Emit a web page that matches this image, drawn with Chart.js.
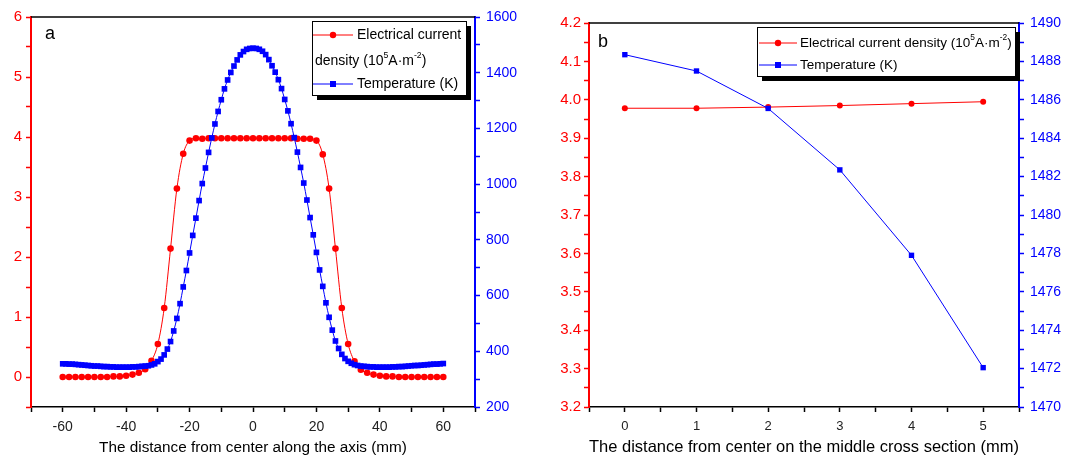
<!DOCTYPE html>
<html>
<head>
<meta charset="utf-8">
<script src="https://cdn.jsdelivr.net/npm/chart.js@4.4.1/dist/chart.umd.min.js"></script>
<style>
  html, body { margin: 0; padding: 0; background: #fff; }
  #wrap { position: relative; width: 1092px; height: 457px; }
  canvas { position: absolute; top: 0; }
  #chartA { left: 0; }
  #chartB { left: 540px; }
</style>
</head>
<body>
<div id="wrap">
  <canvas id="chartA" width="540" height="457"></canvas>
  <canvas id="chartB" width="552" height="457"></canvas>
</div>
<script>
// ---- panel a: along the axis ----
const axisCurrentX = [-60, -58, -56, -54, -52, -50, -48, -46, -44, -42,
  -40, -38, -36, -34, -32, -30, -28, -26, -24, -22,
  -20, -18, -16, -14, -12, -10, -8, -6, -4, -2,
  0,
  2, 4, 6, 8, 10, 12, 14, 16, 18, 20,
  22, 24, 26, 28, 30, 32, 34, 36, 38, 40,
  42, 44, 46, 48, 50, 52, 54, 56, 58, 60];
const axisCurrent = [0, 0, 0, 0, 0, 0, 0, 0, 0.01, 0.01,
  0.02, 0.04, 0.07, 0.13, 0.27, 0.55, 1.15, 2.14, 3.14, 3.72,
  3.94, 3.98, 3.97, 3.98, 3.98, 3.98, 3.98, 3.98, 3.98, 3.98,
  3.98,
  3.98, 3.98, 3.98, 3.98, 3.98, 3.98, 3.97, 3.97, 3.97, 3.94,
  3.71, 3.14, 2.14, 1.15, 0.55, 0.26, 0.12, 0.07, 0.04, 0.02,
  0.01, 0.01, 0, 0, 0, 0, 0, 0, 0, 0];

const axisTempX = [-60, -59, -58, -57, -56, -55, -54, -53, -52, -51,
  -50, -49, -48, -47, -46, -45, -44, -43, -42, -41,
  -40, -39, -38, -37, -36, -35, -34, -33, -32, -31,
  -30, -29, -28, -27, -26, -25, -24, -23, -22, -21,
  -20, -19, -18, -17, -16, -15, -14, -13, -12, -11,
  -10, -9, -8, -7, -6, -5, -4, -3, -2, -1,
  0,
  1, 2, 3, 4, 5, 6, 7, 8, 9, 10,
  11, 12, 13, 14, 15, 16, 17, 18, 19, 20,
  21, 22, 23, 24, 25, 26, 27, 28, 29, 30,
  31, 32, 33, 34, 35, 36, 37, 38, 39, 40,
  41, 42, 43, 44, 45, 46, 47, 48, 49, 50,
  51, 52, 53, 54, 55, 56, 57, 58, 59, 60];
const axisTemp = [355, 355, 354, 354, 353, 352, 351, 350, 349, 348,
  347, 347, 346, 345, 345, 344, 344, 343, 343, 343,
  343, 343, 344, 344, 345, 346, 347, 348, 351, 355,
  363, 372, 387, 408, 435, 473, 518, 571, 631, 690,
  753, 816, 878, 941, 1002, 1058, 1114, 1166, 1216, 1261,
  1303, 1342, 1374, 1401, 1424, 1446, 1464, 1476, 1484, 1487,
  1488,
  1487, 1484, 1477, 1465, 1447, 1425, 1402, 1375, 1343, 1304,
  1263, 1217, 1167, 1115, 1060, 1004, 943, 880, 818, 755,
  692, 633, 574, 522, 476, 437, 410, 389, 374, 364,
  357, 352, 349, 347, 346, 345, 344, 344, 343, 343,
  343, 343, 343, 344, 344, 345, 345, 346, 347, 348,
  349, 349, 350, 351, 352, 353, 354, 354, 355, 356];

// ---- panel b: middle cross section ----
const crossX = [0, 1, 2, 3, 4, 5];
const crossCurrent = [3.978, 3.978, 3.981, 3.985, 3.990, 3.995];
const crossTemp = [1488.35, 1487.5, 1485.55, 1482.35, 1477.9, 1472.05];

const RED = "#ff0000";
const BLUE = "#0000ff";
const FONT = "Arial, 'Liberation Sans', sans-serif";

const currentLabel = [["Electrical current density (10"], ["5", true], ["A\u00b7m"], ["-2", true], [")"]];

const toPoints = (xs, ys) => xs.map((x, i) => ({ x: x, y: ys[i] }));

function drawSegments(ctx, segs, x, y, size) {
  for (const [text, sup] of segs) {
    const s = sup ? size * 0.62 : size;
    ctx.font = `${s}px ${FONT}`;
    ctx.fillText(text, x, sup ? y - size * 0.42 : y);
    x += ctx.measureText(text).width;
  }
}

// top frame line, panel letter and the boxed legend with its shadow
const panelPlugin = {
  id: "panelDecor",
  afterDraw: (chart, args, opts) => {
    const { ctx, chartArea } = chart;
    ctx.save();
    ctx.strokeStyle = "#000";
    ctx.lineWidth = 1.5;
    ctx.beginPath();
    ctx.moveTo(chartArea.left, chartArea.top);
    ctx.lineTo(chartArea.right, chartArea.top);
    ctx.stroke();

    ctx.fillStyle = "#000";
    ctx.textBaseline = "alphabetic";
    ctx.font = `18px ${FONT}`;
    ctx.fillText(opts.letter.text, opts.letter.x, opts.letter.y);

    const b = opts.box;
    ctx.fillStyle = "#000";
    ctx.fillRect(b.x + 5, b.y + 5, b.w, b.h);
    ctx.fillStyle = "#fff";
    ctx.fillRect(b.x, b.y, b.w, b.h);
    ctx.lineWidth = 1;
    ctx.strokeRect(b.x + 0.5, b.y + 0.5, b.w, b.h);

    ctx.textBaseline = "middle";
    opts.rows.forEach((row) => {
      if (row.sample !== undefined) {
        const ds = chart.data.datasets[row.sample];
        ctx.strokeStyle = ds.borderColor;
        ctx.fillStyle = ds.borderColor;
        ctx.lineWidth = 1;
        ctx.beginPath();
        ctx.moveTo(opts.sampleX[0], row.y);
        ctx.lineTo(opts.sampleX[1], row.y);
        ctx.stroke();
        const cx = (opts.sampleX[0] + opts.sampleX[1]) / 2;
        if (ds.pointStyle === "rect") {
          ctx.fillRect(cx - 3, row.y - 3, 6, 6);
        } else {
          ctx.beginPath();
          ctx.arc(cx, row.y, 3.2, 0, Math.PI * 2);
          ctx.fill();
        }
      }
      ctx.fillStyle = "#000";
      drawSegments(ctx, row.segs, row.x, row.y, opts.fontSize);
    });
    ctx.restore();
  },
};

function axis(color, min, max, step, labelFn, width, fontSize, pad, position) {
  return {
    type: "linear",
    position: position,
    min: min,
    max: max,
    ticks: {
      stepSize: step,
      autoSkip: false,
      color: color,
      padding: pad,
      font: { family: FONT, size: fontSize },
      callback: labelFn,
    },
    grid: { drawOnChartArea: false, color: color, tickLength: 5, tickWidth: 1.5 },
    border: { color: color, width: 2 },
    afterFit: (scale) => {
      scale.width = width;
    },
  };
}

function xAxis(min, max, step, labelFn, title, titleSize, fontSize) {
  return {
    type: "linear",
    min: min,
    max: max,
    ticks: {
      stepSize: step,
      autoSkip: false,
      maxRotation: 0,
      color: "#222",
      padding: 7,
      font: { family: FONT, size: fontSize },
      callback: labelFn,
    },
    grid: { drawOnChartArea: false, color: "#000", tickLength: 5, tickWidth: 1.5 },
    border: { color: "#000", width: 1.5 },
    title: {
      display: true,
      text: title,
      color: "#000",
      font: { family: FONT, size: titleSize },
      padding: { top: 0, bottom: 0 },
    },
    afterFit: (scale) => {
      scale.height = 50;
    },
  };
}

const chartA = new Chart(document.getElementById("chartA").getContext("2d"), {
  type: "line",
  data: {
    datasets: [
      {
        label: "Electrical current density (10^5 A\u00b7m^-2)",
        data: toPoints(axisCurrentX, axisCurrent),
        yAxisID: "y",
        borderColor: RED,
        backgroundColor: RED,
        borderWidth: 1,
        pointStyle: "circle",
        pointRadius: 3.3,
        pointBorderWidth: 0,
        cubicInterpolationMode: "monotone",
        order: 1,
      },
      {
        label: "Temperature (K)",
        data: toPoints(axisTempX, axisTemp),
        yAxisID: "y2",
        borderColor: BLUE,
        backgroundColor: BLUE,
        borderWidth: 1,
        pointStyle: "rect",
        pointRadius: 4,
        pointBorderWidth: 0,
        cubicInterpolationMode: "monotone",
        order: 0,
      },
    ],
  },
  options: {
    responsive: false,
    animation: false,
    layout: { padding: { top: 17, left: 0, right: 0, bottom: 0 } },
    scales: {
      x: xAxis(-70, 70, 10, (v) => (v % 20 === 0 ? v : ""),
        "The distance from center along the axis (mm)", 15.3, 14),
      y: axis(RED, -0.5, 6, 0.5, (v) => (Number.isInteger(v) ? v : ""), 31, 15, 4, "left"),
      y2: axis(BLUE, 200, 1600, 100, (v) => (v % 200 === 0 ? v : ""), 65, 14, 6, "right"),
    },
    plugins: {
      legend: { display: false },
      tooltip: { enabled: false },
      panelDecor: {
        letter: { text: "a", x: 45, y: 39 },
        box: { x: 312, y: 21, w: 154, h: 74 },
        sampleX: [313, 353],
        fontSize: 14,
        rows: [
          { y: 35, x: 357, sample: 0, segs: [["Electrical current"]] },
          { y: 61, x: 315, segs: [["density (10"], ["5", true], ["A\u00b7m"], ["-2", true], [")"]] },
          { y: 84, x: 357, sample: 1, segs: [["Temperature (K)"]] },
        ],
      },
    },
  },
  plugins: [panelPlugin],
});

const chartB = new Chart(document.getElementById("chartB").getContext("2d"), {
  type: "line",
  data: {
    datasets: [
      {
        label: "Electrical current density (10^5 A\u00b7m^-2)",
        data: toPoints(crossX, crossCurrent),
        yAxisID: "y",
        borderColor: RED,
        backgroundColor: RED,
        borderWidth: 1,
        pointStyle: "circle",
        pointRadius: 3,
        pointBorderWidth: 0,
        order: 1,
      },
      {
        label: "Temperature (K)",
        data: toPoints(crossX, crossTemp),
        yAxisID: "y2",
        borderColor: BLUE,
        backgroundColor: BLUE,
        borderWidth: 1,
        pointStyle: "rect",
        pointRadius: 3.8,
        pointBorderWidth: 0,
        order: 0,
      },
    ],
  },
  options: {
    responsive: false,
    animation: false,
    layout: { padding: { top: 23, left: 0, right: 0, bottom: 0 } },
    scales: {
      x: xAxis(-0.5, 5.5, 0.5, (v) => (Number.isInteger(v) ? v : ""),
        "The distance from center on the middle cross section (mm)", 16.5, 13),
      y: axis(RED, 3.2, 4.2, 0.05,
        (v) => (Math.round(v * 100) % 10 === 0 ? v.toFixed(1) : ""), 49, 15, 3, "left"),
      y2: axis(BLUE, 1470, 1490, 1,
        (v) => (v % 2 === 0 ? v : ""), 73, 14, 6, "right"),
    },
    plugins: {
      legend: { display: false },
      tooltip: { enabled: false },
      panelDecor: {
        letter: { text: "b", x: 58, y: 46.5 },
        box: { x: 217, y: 27, w: 258, h: 49 },
        sampleX: [219, 257],
        fontSize: 13.5,
        rows: [
          { y: 43, x: 260, sample: 0, segs: currentLabel },
          { y: 65, x: 260, sample: 1, segs: [["Temperature (K)"]] },
        ],
      },
    },
  },
  plugins: [panelPlugin],
});
</script>
</body>
</html>
